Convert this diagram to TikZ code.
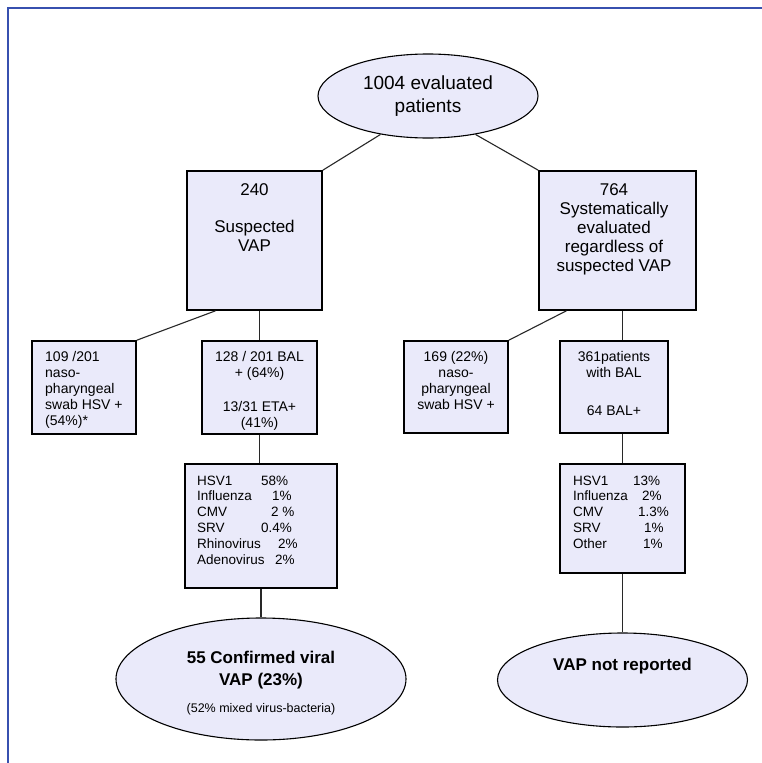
\documentclass[tikz,border=0pt]{standalone}
\usepackage{fontspec}
\setmainfont{Liberation Sans}
\usetikzlibrary{shapes.geometric,calc}
\definecolor{fillc}{RGB}{234,234,250}
\definecolor{framec}{RGB}{55,80,175}
\definecolor{linec}{RGB}{40,40,40}
\begin{document}
\begin{tikzpicture}[x=1pt,y=-1pt,
  box/.style={draw=black, line width=1.6pt, fill=fillc, inner sep=0pt},
  oval/.style={ellipse, draw=black, line width=1.1pt, fill=fillc, inner sep=0pt},
  conn/.style={draw=linec, line width=1.1pt},
  txt/.style={inner sep=0pt, align=center, anchor=base},
  ltxt/.style={inner sep=0pt, align=left, anchor=base west},
  bigf/.style={font=\fontsize{17}{19}\selectfont},
  medf/.style={font=\fontsize{14}{16}\selectfont},
  smf/.style={font=\fontsize{13.5}{15.8}\selectfont}
]
\useasboundingbox (0,0) rectangle (762,763);
\fill[white] (0,0) rectangle (762,763);
\draw[framec, line width=2.5pt] (8,763) -- (8,8) -- (762,8);

% top ellipse (multi-line nodes: base = last line's baseline)
\node[oval, minimum width=220pt, minimum height=84pt] (top) at (428,96) {};
\node[txt, font=\fontsize{19}{23}\selectfont] (topt) at (428,112) {1004 evaluated\\patients};

% level 1 boxes
\node[box, minimum width=135pt, minimum height=139pt] (b240) at (254.5,240.5) {};
\node[txt, bigf] (b240t) at (254.5,251) {240\\[18pt]Suspected\\VAP};
\node[box, minimum width=157pt, minimum height=139pt] (b764) at (617.5,240.5) {};
\node[txt, bigf] (b764t) at (614,271) {764\\Systematically\\evaluated\\regardless of\\suspected VAP};

% level 2 boxes
\node[box, minimum width=104pt, minimum height=93pt] (b109) at (84,387.5) {};
\node[ltxt, medf] (b109t) at (45,425) {109 /201\\naso-\\pharyngeal\\swab HSV +\\(54\%)*};
\node[box, minimum width=115pt, minimum height=93pt] (b128) at (259.5,387.5) {};
\node[txt, medf] (b128t) at (259.5,427) {128 / 201 BAL\\+ (64\%)\\[18pt]13/31 ETA+\\(41\%)};
\node[box, minimum width=104pt, minimum height=92pt] (b169) at (456,387) {};
\node[txt, medf] (b169t) at (456,409) {169 (22\%)\\naso-\\pharyngeal\\swab HSV +};
\node[box, minimum width=108pt, minimum height=92pt] (b361) at (614,387) {};
\node[txt, medf] (b361t) at (614,415) {361patients\\with BAL\\[22pt]64 BAL+};

% virus boxes
\node[box, minimum width=152pt, minimum height=124pt] (vl) at (261,526) {};
\node[ltxt, smf] (vlt) at (197,564) {\makebox[64pt][l]{HSV1}58\%\\\makebox[75pt][l]{Influenza}1\%\\\makebox[74pt][l]{CMV}2 \%\\\makebox[64pt][l]{SRV}0.4\%\\\makebox[81pt][l]{Rhinovirus}2\%\\\makebox[78pt][l]{Adenovirus}2\%};
\node[box, minimum width=125pt, minimum height=109pt] (vr) at (622.5,518.5) {};
\node[ltxt, smf] (vrt) at (573,548.2) {\makebox[60pt][l]{HSV1}13\%\\\makebox[69pt][l]{Influenza}2\%\\\makebox[65pt][l]{CMV}1.3\%\\\makebox[71pt][l]{SRV}1\%\\\makebox[70pt][l]{Other}1\%};

% bottom ellipses
\node[oval, minimum width=290pt, minimum height=122pt] (el) at (261,679) {};
\node[txt, font=\bfseries\fontsize{17}{22}\selectfont] (elt) at (261,685) {55 Confirmed viral\\VAP (23\%)};
\node[txt, font=\fontsize{12.5}{15}\selectfont] (elt2) at (261,712) {(52\% mixed virus-bacteria)};
\node[oval, minimum width=250pt, minimum height=94pt] (er) at (622.5,680) {};
\node[txt, font=\bfseries\fontsize{17}{20}\selectfont] (ert) at (622.5,670) {VAP not reported};

% connectors
\draw[conn] (b240.north east) -- (top.219.8);
\draw[conn] (b764.north west) -- (top.321.1);
\draw[conn] (b240.241.6) -- (b109.north east);
\draw[conn] (b240.south -| b128.north) -- (b128.north);
\draw[conn] (b128.south) -- (b128.south |- vl.north);
\draw[conn] (vl.south) -- (el.north);
\draw[conn] (b764.234.5) -- (b169.north east);
\draw[conn] (b764.south -| vr.north) -- (b361.north -| vr.north);
\draw[conn] (b361.south -| vr.north) -- (vr.north);
\draw[conn] (vr.south) -- (er.north);
\end{tikzpicture}
\end{document}
